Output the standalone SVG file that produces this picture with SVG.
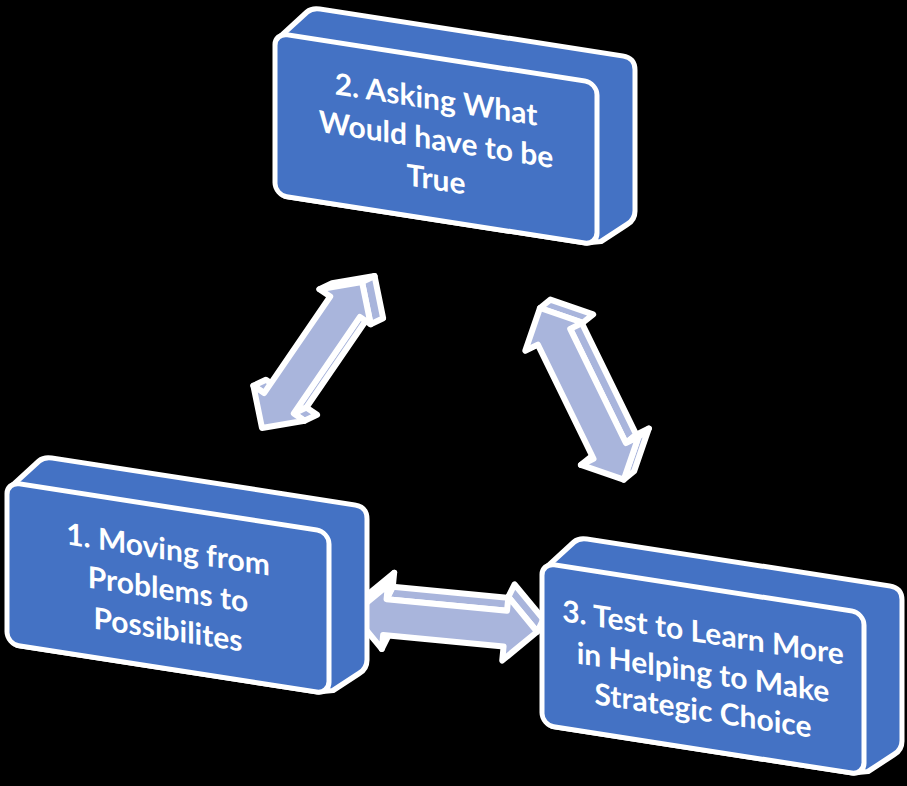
<svg xmlns="http://www.w3.org/2000/svg" xmlns:xlink="http://www.w3.org/1999/xlink" width="907" height="786" viewBox="0 0 907 786">
  <style>
    .bg { fill: #000000; }
    .face { fill: #4472C4; stroke: #FFFFFF; stroke-width: 5; stroke-linejoin: round; }
    .arr { fill: #A9B5DC; stroke: #FFFFFF; stroke-width: 6; stroke-linejoin: round; }
    .lbl { font-family: Lato, "Open Sans", "Liberation Sans", sans-serif; font-weight: 700; font-size: 30px; fill: #FFFFFF; text-anchor: middle; }
  </style>
  <defs>
    <g id="boxshape">
      <path class="face" d="M 4,4 L 32,-26 Q 37,-31 45,-31 L 348,-31 Q 360,-31 360,-19 L 360,122 Q 360,131 352,137 L 326,158 L 310,162 L 10,162 Z"/>
      <rect class="face" x="0" y="0" width="322" height="162" rx="12" ry="12"/>
    </g>
  </defs>
  <rect class="bg" x="0" y="0" width="907" height="786"/>

  <g id="connectors">
    <g id="arrow-1-2" transform="translate(262,428) rotate(-55.6)">
      <polygon class="arr" points="147,18 30,18 42,25 159,25"/>
      <polygon class="arr" points="30,-31 30,-18 42,-11 42,-24"/>
      <polygon class="arr" points="30,18 30,31 42,38 42,25"/>
      <polygon class="arr" points="147,-31 177,0 189,7 159,-24"/>
      <polygon class="arr" points="177,0 147,31 159,38 189,7"/>
      <polygon class="arr" points="0,0 30,-31 30,-18 147,-18 147,-31 177,0 147,31 147,18 30,18 30,31"/>
    </g>
    <g id="arrow-2-3" transform="translate(540,308) rotate(64)">
      <polygon class="arr" points="32,-18 159,-18 156,-31 29,-31"/>
      <polygon class="arr" points="0,0 32,-32 29,-45 -3,-13"/>
      <polygon class="arr" points="159,-18 159,-32 156,-45 156,-31"/>
      <polygon class="arr" points="159,-32 191,0 188,-13 156,-45"/>
      <polygon class="arr" points="159,32 159,18 156,5 156,19"/>
      <polygon class="arr" points="0,0 32,-32 32,-18 159,-18 159,-32 191,0 159,32 159,18 32,18 32,32"/>
    </g>
    <g id="arrow-1-3" transform="translate(353,614) rotate(5.5)">
      <polygon class="arr" points="32,-18 153,-18 158,-31 37,-31"/>
      <polygon class="arr" points="0,0 32,-32 37,-45 5,-13"/>
      <polygon class="arr" points="32,-32 32,-18 37,-31 37,-45"/>
      <polygon class="arr" points="153,-32 185,0 190,-13 158,-45"/>
      <polygon class="arr" points="32,18 32,32 37,19 37,5"/>
      <polygon class="arr" points="0,0 32,-32 32,-18 153,-18 153,-32 185,0 153,32 153,18 32,18 32,32"/>
    </g>
  </g>

  <g id="node-2" transform="matrix(1,0.155,0,1,275,33)">
    <use xlink:href="#boxshape" href="#boxshape"/>
    <text class="lbl" x="161" y="52">2. Asking What</text>
    <text class="lbl" x="161" y="92">Would have to be</text>
    <text class="lbl" x="161" y="132">True</text>
  </g>

  <g id="node-1" transform="matrix(1,0.155,0,1,7,482)">
    <use xlink:href="#boxshape" href="#boxshape"/>
    <text class="lbl" x="161" y="53">1. Moving from</text>
    <text class="lbl" x="161" y="93">Problems to</text>
    <text class="lbl" x="161" y="133">Possibilites</text>
  </g>

  <g id="node-3" transform="matrix(1,0.155,0,1,542,563)">
    <use xlink:href="#boxshape" href="#boxshape"/>
    <text class="lbl" x="161" y="55">3. Test to Learn More</text>
    <text class="lbl" x="161" y="95">in Helping to Make</text>
    <text class="lbl" x="161" y="133">Strategic Choice</text>
  </g>
</svg>
